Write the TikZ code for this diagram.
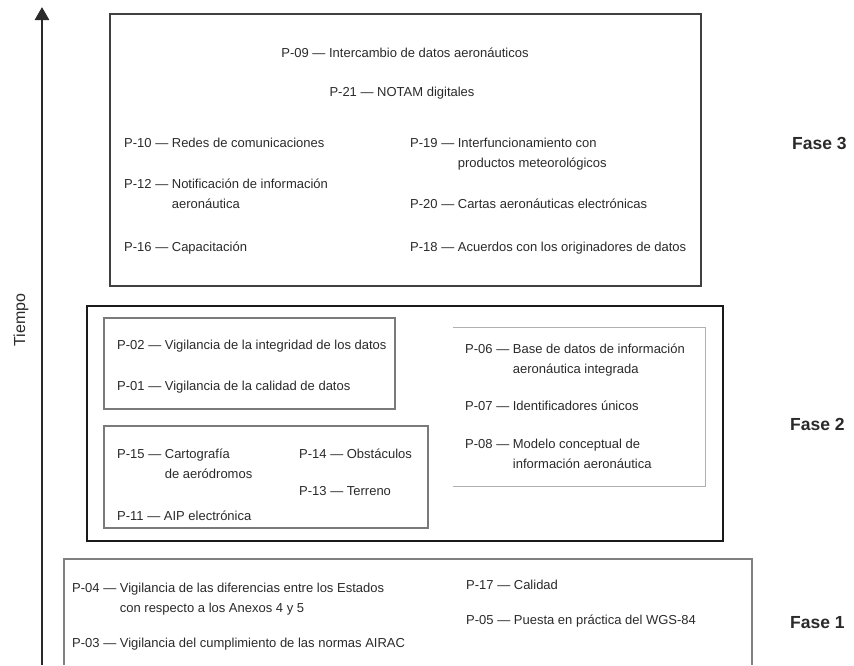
\documentclass[tikz,border=0pt]{standalone}
\usepackage{fontspec}
\setmainfont{Liberation Sans}
\usetikzlibrary{arrows.meta}
\definecolor{txt}{HTML}{2A2A2A}
\definecolor{topc}{HTML}{404040}
\definecolor{twoc}{HTML}{1A1A1A}
\definecolor{innc}{HTML}{7A7A7A}
\definecolor{rbc}{HTML}{B0B0B0}
\definecolor{onec}{HTML}{808080}
\newcommand{\itm}[2]{\begin{tabular}[t]{@{}l@{}l@{}}\mbox{#1 — }& #2\end{tabular}}
\begin{document}
\begin{tikzpicture}[x=1pt,y=-1pt,
  itemtext/.style={anchor=base west, inner sep=0pt, text=txt, font=\fontsize{13}{20}\selectfont},
  ctext/.style={anchor=base, inner sep=0pt, text=txt, font=\fontsize{13}{20}\selectfont},
  fase/.style={anchor=base west, inner sep=0pt, text=txt, font=\fontsize{17.5}{20}\selectfont\bfseries},
  axisline/.style={line width=2.7pt, draw=txt, -{Triangle[width=14pt,length=13pt]}},
  topbox/.style={draw=topc, line width=2pt},
  twobox/.style={draw=twoc, line width=2pt},
  innbox/.style={draw=innc, line width=1.2pt},
  rbox/.style={draw=rbc, line width=1pt},
  onebox/.style={draw=onec, line width=1.2pt}]
\useasboundingbox (0,0) rectangle (854,665);
% axis
\coordinate (axbot) at (42,665);
\coordinate (axtop) at (42,7);
\draw[axisline] (axbot) -- (axtop);
\node[rotate=90, inner sep=0pt, text=txt, font=\fontsize{16}{18}\selectfont] (tiempo) at (21,320) {Tiempo};
% boxes
\draw[topbox] (110,14) rectangle (701,286);
\draw[twobox] (87,306) rectangle (723,541);
\draw[innbox] (104,318) rectangle (395,409);
\draw[innbox] (104,426) rectangle (428,528);
\draw[rbox] (453,327) -| (705,486) -- (453,486);
\draw[onebox] (64,665) |- (752,559) -- (752,665);
% phase 3
\node[ctext] (p09) at (405,57.5) {P-09 — Intercambio de datos aeronáuticos};
\node[ctext] (p21) at (402,96.5) {P-21 — NOTAM digitales};
\node[itemtext] (p10) at (124,147.5) {P-10 — Redes de comunicaciones};
\node[itemtext] (p12) at (124,188.5) {\itm{P-12}{Notificación de información\\ & aeronáutica}};
\node[itemtext] (p16) at (124,251.5) {P-16 — Capacitación};
\node[itemtext] (p19) at (410,147.5) {\itm{P-19}{Interfuncionamiento con\\ & productos meteorológicos}};
\node[itemtext] (p20) at (410,208.5) {P-20 — Cartas aeronáuticas electrónicas};
\node[itemtext] (p18) at (410,251.5) {P-18 — Acuerdos con los originadores de datos};
% phase 2
\node[itemtext] (p02) at (117,349.5) {P-02 — Vigilancia de la integridad de los datos};
\node[itemtext] (p01) at (117,390.5) {P-01 — Vigilancia de la calidad de datos};
\node[itemtext] (p15) at (117,458.5) {\itm{P-15}{Cartografía\\ & de aeródromos}};
\node[itemtext] (p11) at (117,520.5) {P-11 — AIP electrónica};
\node[itemtext] (p14) at (299,458.5) {P-14 — Obstáculos};
\node[itemtext] (p13) at (299,495.5) {P-13 — Terreno};
\node[itemtext] (p06) at (465,353.5) {\itm{P-06}{Base de datos de información\\ & aeronáutica integrada}};
\node[itemtext] (p07) at (465,410.5) {P-07 — Identificadores únicos};
\node[itemtext] (p08) at (465,448.5) {\itm{P-08}{Modelo conceptual de\\ & información aeronáutica}};
% phase 1
\node[itemtext] (p04) at (72,592.5) {\itm{P-04}{Vigilancia de las diferencias entre los Estados\\ & con respecto a los Anexos 4 y 5}};
\node[itemtext] (p03) at (72,647.5) {P-03 — Vigilancia del cumplimiento de las normas AIRAC};
\node[itemtext] (p17) at (466,589.5) {P-17 — Calidad};
\node[itemtext] (p05) at (466,624.5) {P-05 — Puesta en práctica del WGS-84};
% phase labels
\node[fase] (f3) at (792,149) {Fase 3};
\node[fase] (f2) at (790,430) {Fase 2};
\node[fase] (f1) at (790,628) {Fase 1};
\end{tikzpicture}
\end{document}
